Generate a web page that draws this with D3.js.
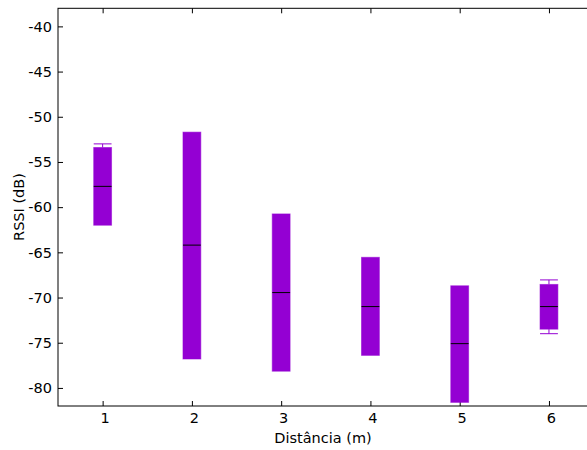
<!DOCTYPE html>
<html>
<head>
<meta charset="utf-8">
<script src="https://cdn.jsdelivr.net/npm/d3@7"></script>
<style>
  body { margin: 0; background: #fff; }
  svg { display: block; }
  text { font-family: "DejaVu Sans", sans-serif; font-size: 14.5px; fill: #000; }
</style>
</head>
<body>
<div id="chart"></div>
<script>
// dados
var distancias = [1, 2, 3, 4, 5, 6];
var q1 = [-62.0, -76.8, -78.15, -76.4, -81.6, -73.5];
var q3 = [-53.4, -51.7, -60.75, -65.55, -68.7, -68.55];
var medianas = [-57.7, -64.2, -69.45, -71.0, -75.1, -71.0];
var minimos = [-62.0, -76.8, -78.15, -76.4, -81.6, -74.0];
var maximos = [-53.0, -51.7, -60.75, -65.55, -68.7, -68.05];
var yTicks = [-40, -45, -50, -55, -60, -65, -70, -75, -80];

var width = 587,
  height = 450;

var mLeft = 58,
  mTop = 8.3,
  mRight = 593.6,
  mBottom = 406;

var svg = d3
  .select("#chart")
  .append("svg")
  .attr("width", width)
  .attr("height", height);

var x = d3.scaleLinear().domain([0.5, 6.5]).range([mLeft, mRight]);
var y = d3.scaleLinear().domain([-82, -38]).range([mBottom, mTop]);

var cor = "#9400d3";
var meia = x(1.1) - x(1);

var dados = distancias.map(function (d, i) {
  return { x: d, q1: q1[i], q3: q3[i], med: medianas[i], min: minimos[i], max: maximos[i] };
});

// eixos (ticks para dentro, espelhados)
svg
  .append("g")
  .attr("transform", "translate(0," + mBottom + ")")
  .call(d3.axisTop(x).tickValues(distancias).tickSize(5).tickFormat(""))
  .call(function (g) { g.select(".domain").remove(); });
svg
  .append("g")
  .attr("transform", "translate(0," + mTop + ")")
  .call(d3.axisBottom(x).tickValues(distancias).tickSize(5).tickFormat(""))
  .call(function (g) { g.select(".domain").remove(); });
svg
  .append("g")
  .attr("transform", "translate(" + mLeft + ",0)")
  .call(d3.axisRight(y).tickValues(yTicks).tickSize(5).tickFormat(""))
  .call(function (g) { g.select(".domain").remove(); });

svg
  .selectAll(".xlabel")
  .data(distancias)
  .join("text")
  .attr("class", "xlabel")
  .attr("x", function (d) { return x(d) + 2.5; })
  .attr("y", 423)
  .attr("text-anchor", "middle")
  .text(function (d) { return d; });

svg
  .selectAll(".ylabel")
  .data(yTicks)
  .join("text")
  .attr("class", "ylabel")
  .attr("x", 52)
  .attr("y", function (d) { return y(d) + 5.3; })
  .attr("text-anchor", "end")
  .text(function (d) { return d; });

// whiskers
var caixas = svg.append("g");
dados.forEach(function (d) {
  if (d.max > d.q3) {
    caixas.append("line")
      .attr("x1", x(d.x)).attr("x2", x(d.x))
      .attr("y1", y(d.max)).attr("y2", y(d.q3))
      .attr("stroke", cor).attr("stroke-width", 1);
    caixas.append("line")
      .attr("x1", x(d.x) - meia).attr("x2", x(d.x) + meia)
      .attr("y1", y(d.max)).attr("y2", y(d.max))
      .attr("stroke", cor).attr("stroke-width", 1);
  }
  if (d.min < d.q1) {
    caixas.append("line")
      .attr("x1", x(d.x)).attr("x2", x(d.x))
      .attr("y1", y(d.q1)).attr("y2", y(d.min))
      .attr("stroke", cor).attr("stroke-width", 1);
    caixas.append("line")
      .attr("x1", x(d.x) - meia).attr("x2", x(d.x) + meia)
      .attr("y1", y(d.min)).attr("y2", y(d.min))
      .attr("stroke", cor).attr("stroke-width", 1);
  }
});

caixas
  .selectAll("rect")
  .data(dados)
  .join("rect")
  .attr("x", function (d) { return x(d.x) - meia; })
  .attr("width", meia * 2)
  .attr("y", function (d) { return y(d.q3); })
  .attr("height", function (d) { return y(d.q1) - y(d.q3); })
  .attr("fill", cor)
  .attr("stroke", cor)
  .attr("stroke-opacity", 0.55)
  .attr("stroke-width", 1);

caixas
  .selectAll(".mediana")
  .data(dados)
  .join("line")
  .attr("class", "mediana")
  .attr("x1", function (d) { return x(d.x) - meia; })
  .attr("x2", function (d) { return x(d.x) + meia; })
  .attr("y1", function (d) { return y(d.med); })
  .attr("y2", function (d) { return y(d.med); })
  .attr("stroke", "#000")
  .attr("stroke-width", 1);

// moldura
svg
  .append("rect")
  .attr("x", mLeft)
  .attr("y", mTop)
  .attr("width", mRight - mLeft)
  .attr("height", mBottom - mTop)
  .attr("fill", "none")
  .attr("stroke", "#000")
  .attr("stroke-width", 1);

svg
  .append("text")
  .attr("x", 323)
  .attr("y", 443)
  .attr("text-anchor", "middle")
  .text("Distância (m)");

svg
  .append("text")
  .attr("transform", "translate(24,207) rotate(-90)")
  .attr("text-anchor", "middle")
  .text("RSSI (dB)");
</script>
</body>
</html>
